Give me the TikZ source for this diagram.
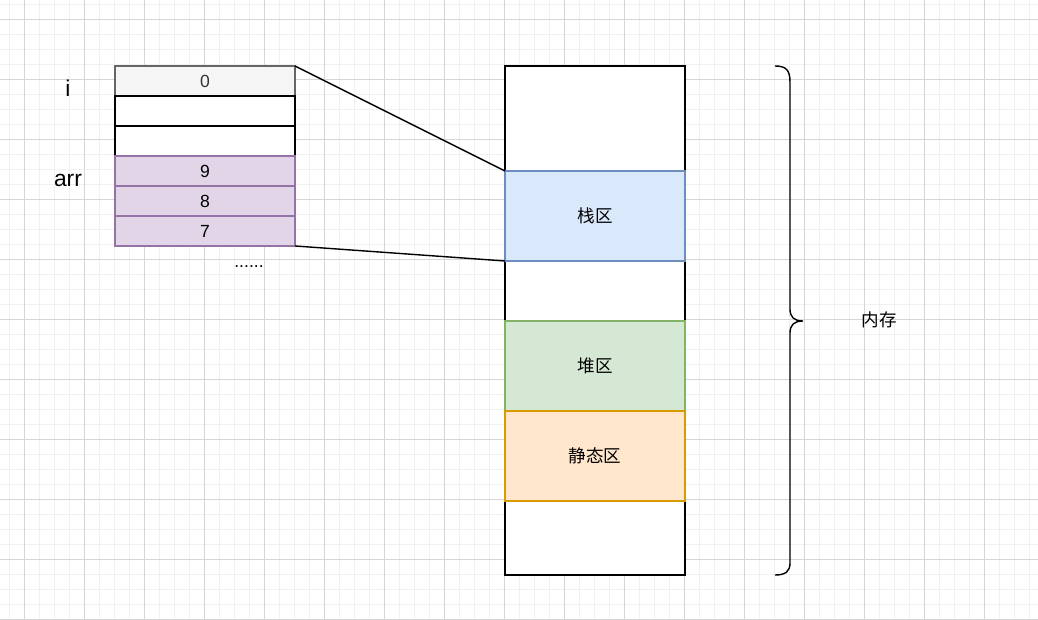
\documentclass[tikz,border=0pt]{standalone}
\usepackage{fontspec}
\setmainfont{Liberation Sans}
\newfontfamily\cjk{Noto Sans CJK SC}
\usetikzlibrary{positioning}
\definecolor{majorgray}{HTML}{D6D6D6}
\definecolor{minorgray}{HTML}{F0F0F0}
\definecolor{grayfill}{HTML}{F5F5F5}
\definecolor{graydraw}{HTML}{666666}
\definecolor{arrfill}{HTML}{E1D5E7}
\definecolor{arrdraw}{HTML}{9673A6}
\definecolor{stackfill}{HTML}{DAE8FC}
\definecolor{stackdraw}{HTML}{6C8EBF}
\definecolor{heapfill}{HTML}{D5E8D4}
\definecolor{heapdraw}{HTML}{82B366}
\definecolor{staticfill}{HTML}{FFE6CC}
\definecolor{staticdraw}{HTML}{D79B00}

\begin{document}
\begin{tikzpicture}
[x=0.02cm,y=-0.02cm,
minorgrid/.style={minorgray,line width=.5pt},
majorgrid/.style={majorgray,line width=.5pt},
cell/.style={draw=black,fill=white,line width=.8pt,minimum width=3.6cm,minimum height=0.6cm,
 inner sep=0pt,outer sep=0pt,font=\fontsize{10}{12}\selectfont},
region/.style={cell,minimum height=1.8cm},
label/.style={font=\fontsize{13}{15}\selectfont},
link/.style={black,line width=.8pt}]
\useasboundingbox (0,0) rectangle (1038,619);
\fill[white] (0,0) rectangle (1038,619);
%% grid
\foreach \x in {9,24,...,1038} \draw[minorgrid] (\x,0) -- (\x,619);
\foreach \y in {4,19,...,619} \draw[minorgrid] (0,\y) -- (1038,\y);
\foreach \x in {24,84,...,1038} \draw[majorgrid] (\x,0) -- (\x,619);
\foreach \y in {19,79,...,619} \draw[majorgrid] (0,\y) -- (1038,\y);
%% stack frame
\node[cell,fill=grayfill,draw=graydraw,text=black!80] (i0) at (205,81) {0};
\node[cell,below=0pt of i0] (i1) {};
\node[cell,below=0pt of i1] (i2) {};
\node[cell,fill=arrfill,draw=arrdraw,below=0pt of i2] (a9) {9};
\node[cell,fill=arrfill,draw=arrdraw,below=0pt of a9] (a8) {8};
\node[cell,fill=arrfill,draw=arrdraw,below=0pt of a8] (a7) {7};
\node[label] (ilab) at (68,88) {i};
\node[label] (arrlab) at (68,180) {arr};
\node[font=\fontsize{10}{12}\selectfont] (dots) at (249,267) {......};
%% memory
\node[cell,minimum height=10.18cm] (mem) at (595,320.5) {};
\node[region,fill=stackfill,draw=stackdraw] (stack) at (595,216) {\cjk 栈区};
\node[region,fill=heapfill,draw=heapdraw] (heap) at (595,366) {\cjk 堆区};
\node[region,fill=staticfill,draw=staticdraw] (static) at (595,456) {\cjk 静态区};
\draw[link] (i0.north east) -- (stack.north west);
\draw[link] (a7.south east) -- (stack.south west);
%% brace
\coordinate (btop) at (775,66);
\coordinate (btip) at (803,321);
\coordinate (bbot) at (775,575);
\draw[link] (btop) .. controls (786,66) and (790,70) .. (790,82) -- (790,309)
 .. controls (790,317) and (794,321) .. (btip)
 .. controls (794,321) and (790,325) .. (790,333) -- (790,563)
 .. controls (790,571) and (786,575) .. (bbot);
\node[font=\fontsize{10}{12}\selectfont] (memlab) at (879,320) {\cjk 内存};
\end{tikzpicture}
\end{document}
